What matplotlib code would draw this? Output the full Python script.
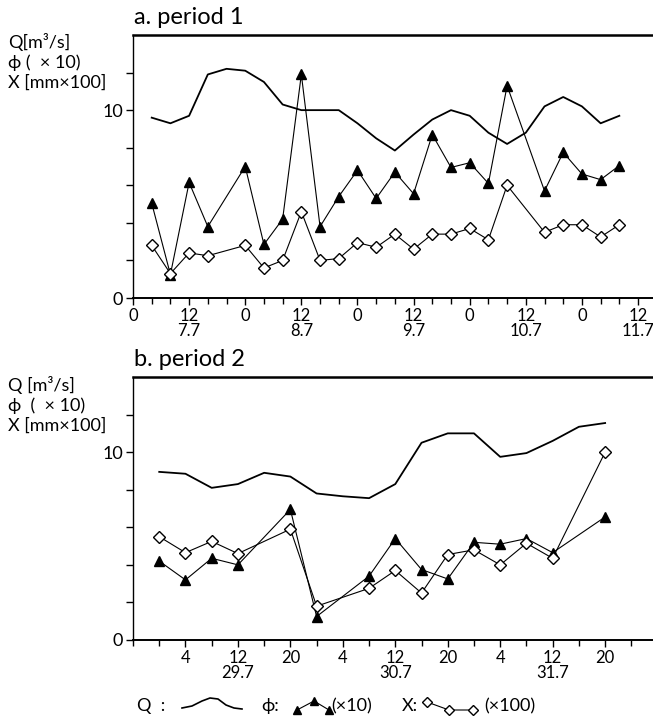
import numpy as np
import matplotlib
matplotlib.use("Agg")
from matplotlib import pyplot as plt

plt.rcParams['font.family'] = ['Lato', 'DejaVu Sans']

# period 1: hours counted from 0h on 7.7
q_hours_1 = [4, 8, 12, 16, 20, 24, 28, 32, 36, 40, 44, 48, 52,
             56, 60, 64, 68, 72, 76, 80, 84, 88, 92, 96, 100, 104]
q_1 = [9.6, 9.3, 9.7, 11.9, 12.2, 12.1, 11.5, 10.3, 10.0, 10.0, 10.0, 9.3, 8.5,
       7.85, 8.7, 9.5, 10.0, 9.7, 8.8, 8.2, 8.8, 10.2, 10.7, 10.2, 9.3, 9.7]
hours_1 = [4, 8, 12, 16, 24, 28, 32, 36, 40, 44, 48, 52, 56, 60,
           64, 68, 72, 76, 80, 88, 92, 96, 100, 104]
phi_1 = [5.05, 1.25, 6.15, 3.8, 7.0, 2.85, 4.2, 11.9, 3.8, 5.4, 6.8, 5.3, 6.7, 5.55,
         8.7, 6.95, 7.2, 6.1, 11.3, 5.7, 7.75, 6.6, 6.3, 7.05]
x_1 = [2.8, 1.3, 2.4, 2.25, 2.8, 1.6, 2.0, 4.6, 2.0, 2.1, 2.95, 2.7, 3.4, 2.6,
       3.4, 3.4, 3.7, 3.1, 6.0, 3.5, 3.9, 3.9, 3.25, 3.9]
ticks_1 = [0, 12, 24, 36, 48, 60, 72, 84, 96, 108]
ticklabels_1 = ['0', '12\n7.7', '0', '12\n8.7', '0', '12\n9.7',
                '0', '12\n10.7', '0', '12\n11.7']

# period 2: hours counted from 0h on 29.7
q_hours_2 = [0, 4, 8, 12, 16, 20, 24, 28, 32, 36, 40, 44, 48, 52, 56, 60, 64, 68]
q_2 = [8.95, 8.85, 8.1, 8.3, 8.9, 8.7, 7.8, 7.65, 7.55, 8.3, 10.5, 11.0,
       11.0, 9.75, 9.95, 10.6, 11.35, 11.55]
hours_2 = [0, 4, 8, 12, 20, 24, 32, 36, 40, 44, 48, 52, 56, 60, 68]
phi_2 = [4.2, 3.2, 4.35, 4.0, 6.95, 1.25, 3.4, 5.4, 3.75, 3.25, 5.2, 5.1, 5.4, 4.65, 6.55]
x_2 = [5.5, 4.65, 5.25, 4.6, 5.9, 1.8, 2.75, 3.7, 2.5, 4.55, 4.8, 4.0, 5.15, 4.35, 10.0]
ticks_2 = [4, 12, 20, 28, 36, 44, 52, 60, 68]
ticklabels_2 = ['4', '12\n29.7', '20', '4', '12\n30.7', '20', '4', '12\n31.7', '20']

W, H = 653, 722
fig = plt.figure(figsize=(W / 100, H / 100), dpi=100)


def px_axes(l, t, r, b):
    return fig.add_axes([l / W, 1 - b / H, (r - l) / W, (b - t) / H])


def style(ax):
    ax.set_ylim(0, 14)
    ax.spines['right'].set_visible(False)
    ax.spines['top'].set_linewidth(1.8)
    ax.spines['left'].set_linewidth(1.0)
    ax.spines['bottom'].set_linewidth(1.4)
    ax.set_yticks([0, 10])
    ax.set_yticks([2, 4, 6, 8, 12], minor=True)
    ax.tick_params(axis='y', which='both', direction='out', length=5, width=1,
                   labelsize=13, pad=2)
    ax.tick_params(axis='x', which='major', direction='out', length=5, width=1,
                   labelsize=12, pad=2)
    ax.tick_params(axis='x', which='minor', direction='out', length=4, width=1)


def draw(ax, qh, q, h, phi, x):
    ax.plot(qh, q, color='k', lw=1.3, solid_joinstyle='round')
    ax.plot(h, phi, color='k', lw=0.8, marker='^', ms=7, mfc='k', mec='k')
    ax.plot(h, x, color='k', lw=0.8, marker='D', ms=6, mfc='white', mec='k', mew=1)


ax1 = px_axes(133, 35, 653, 298)
style(ax1)
draw(ax1, q_hours_1, q_1, hours_1, phi_1, x_1)
ax1.set_xlim(0, 111.2)
ax1.set_xticks(ticks_1)
ax1.set_xticklabels(ticklabels_1, linespacing=0.95)
ax1.set_xticks(np.arange(0, 112, 4), minor=True)

ax2 = px_axes(133, 377, 653, 640)
style(ax2)
draw(ax2, q_hours_2, q_2, hours_2, phi_2, x_2)
ax2.set_xlim(-4, 75.3)
ax2.set_xticks(ticks_2)
ax2.set_xticklabels(ticklabels_2, linespacing=0.95)
ax2.set_xticks(np.arange(-4, 76, 4), minor=True)

# overlay in pixel coordinates for titles, unit labels and the key
ov = fig.add_axes([0, 0, 1, 1], facecolor='none')
ov.set_xlim(0, W)
ov.set_ylim(H, 0)
ov.axis('off')

ov.text(134, 17, 'a. period 1', fontsize=17, va='center')
ov.text(134, 359, 'b. period 2', fontsize=17, va='center')

for y0, lines in [(42, ['Q[m³/s]', 'ϕ (  × 10)', 'X [mm×100]']),
                  (385, ['Q [m³/s]', 'ϕ  (  × 10)', 'X [mm×100]'])]:
    for i, s in enumerate(lines):
        ov.text(8, y0 + i * 20.5, s, fontsize=13, va='center')

# key
ky = 706
ov.text(137, ky, 'Q  :', fontsize=13, va='center')
wave_x = [182, 192, 202, 210, 218, 226, 234, 242]
wave_y = [708, 706, 701, 698, 699, 705, 708, 709]
ov.plot(wave_x, wave_y, color='k', lw=1.2)
ov.text(261, ky, 'ϕ:', fontsize=13, va='center')
ov.plot([297, 314, 329], [710, 701, 710], color='k', lw=0.8, marker='^', ms=6)
ov.text(331, ky, '(×10)', fontsize=13, va='center')
ov.text(402, ky, 'X:', fontsize=13, va='center')
ov.plot([427, 449, 473], [702, 710, 710], color='k', lw=0.8, marker='D', ms=5,
        mfc='white', mec='k')
ov.text(484, ky, '(×100)', fontsize=13, va='center')

fig.savefig('out.png', dpi=100, facecolor='white')
